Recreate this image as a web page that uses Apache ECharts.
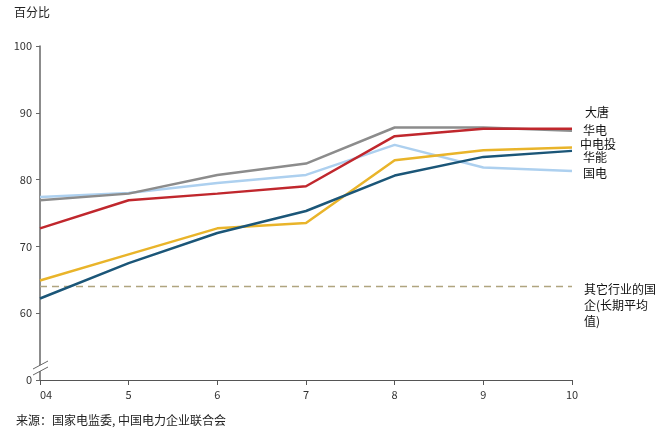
<!DOCTYPE html>
<html><head><meta charset="utf-8">
<script src="https://cdn.jsdelivr.net/npm/echarts@6/dist/echarts.min.js"></script>
<style>html,body{margin:0;padding:0;background:#fff}#c{width:664px;height:429px}</style>
</head><body><div id="c"></div>
<script>
const categories = ['04','5','6','7','8','9','10'];
const guodian   = [62.2, 67.5, 72.0, 75.3, 80.6, 83.4, 84.3];
const huaneng   = [64.9, 68.8, 72.7, 73.5, 82.9, 84.4, 84.8];
const huadian   = [72.7, 76.9, 77.9, 79.0, 86.5, 87.6, 87.6];
const datang    = [76.9, 77.9, 80.7, 82.4, 87.8, 87.8, 87.3];
const zhongdiantou = [77.4, 78.0, 79.5, 80.7, 85.2, 81.8, 81.3];
const otherAvg  = [64, 64, 64, 64, 64, 64, 64];
const yTicks = [50, 60, 70, 80, 90, 100]; // 50 is shown as "0" (broken axis)
const seriesNames = ['大唐','华电','中电投','华能','国电'];

const font = '"Noto Sans CJK SC", "Noto Sans", sans-serif';
const chart = echarts.init(document.getElementById('c'));
function line(name, data, color, extra) {
  return Object.assign({
    name, type: 'line', data, symbol: 'none', smooth: false,
    lineStyle: { color, width: 2.5 }, itemStyle: { color }, z: 3
  }, extra || {});
}
chart.setOption({
  animation: false,
  grid: { left: 40, right: 92, top: 46, bottom: 49 },
  xAxis: {
    type: 'category', data: categories, boundaryGap: false,
    axisLine: { lineStyle: { color: '#555', width: 1 } },
    axisTick: { show: true, length: 5, lineStyle: { color: '#555' } },
    axisLabel: { color: '#333', fontSize: 11, fontFamily: font, margin: 9, alignMinLabel: 'left' },
    splitLine: { show: false }
  },
  yAxis: {
    type: 'value', min: 50, max: 100, interval: 10,
    axisLine: { show: true, lineStyle: { color: '#666', width: 1.5 } },
    axisTick: { show: true, inside: false, length: 4, lineStyle: { color: '#666' } },
    axisLabel: { color: '#333', fontSize: 11, fontFamily: font, margin: 8,
      formatter: v => (v === 50 ? '0' : String(v)) },
    splitLine: { show: false }
  },
  series: [
    line('其它行业的国企(长期平均值)', otherAvg, '#b0a57f', { lineStyle: { color: '#b0a57f', width: 1.5, type: [7, 5] }, z: 2 }),
    line('中电投', zhongdiantou, '#add0ef'),
    line('大唐', datang, '#8c8c8c'),
    line('华电', huadian, '#c0272d'),
    line('华能', huaneng, '#e9b42a'),
    line('国电', guodian, '#1b5678')
  ],
  graphic: [
    { type: 'text', left: 14, top: 6, style: { text: '百分比', font: '12px ' + font, fill: '#222' } },
    { type: 'text', left: 16, top: 414, style: { text: '来源：国家电监委, 中国电力企业联合会', font: '12px ' + font, fill: '#222' } },
    { type: 'text', left: 585, top: 106, style: { text: seriesNames[0], font: '12px ' + font, fill: '#111' } },
    { type: 'text', left: 583, top: 124, style: { text: seriesNames[1], font: '12px ' + font, fill: '#111' } },
    { type: 'text', left: 580, top: 138, style: { text: seriesNames[2], font: '12px ' + font, fill: '#111' } },
    { type: 'text', left: 583, top: 151, style: { text: seriesNames[3], font: '12px ' + font, fill: '#111' } },
    { type: 'text', left: 583, top: 167, style: { text: seriesNames[4], font: '12px ' + font, fill: '#111' } },
    { type: 'text', left: 584, top: 281, style: { text: '其它行业的国\n企(长期平均\n值)', font: '12px ' + font, lineHeight: 16, fill: '#111' } },
    // axis break mark
    { type: 'polygon', z: 10, shape: { points: [[33, 369], [48, 361], [48, 367], [33, 375]] }, style: { fill: '#fff' } },
    { type: 'line', z: 11, shape: { x1: 33, y1: 369, x2: 48, y2: 361 }, style: { stroke: '#666', lineWidth: 1 } },
    { type: 'line', z: 11, shape: { x1: 33, y1: 375, x2: 48, y2: 367 }, style: { stroke: '#666', lineWidth: 1 } }
  ]
});
</script></body></html>
